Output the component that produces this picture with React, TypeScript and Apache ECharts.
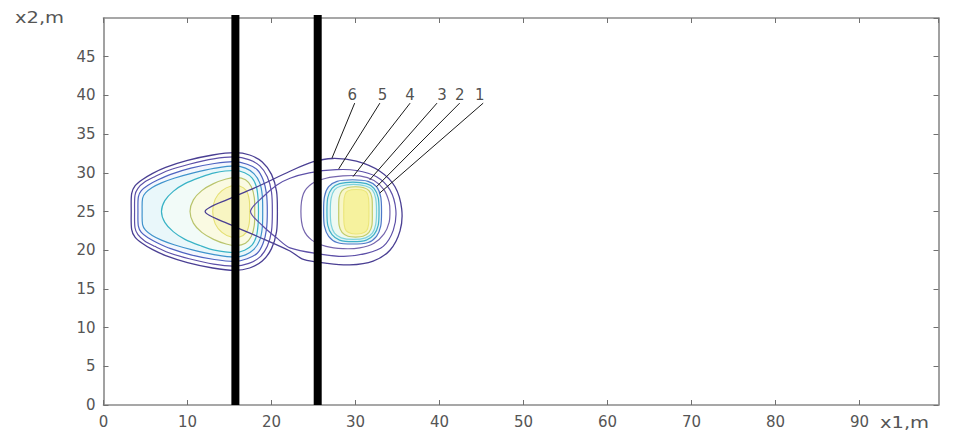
import React, { useEffect, useRef } from "react";
import * as echarts from "echarts";

// ---- axes ----
const X_MIN = 0;
const X_MAX = 99.4;
const X_STEP = 10;
const Y_MIN = 0;
const Y_MAX = 50;
const Y_STEP = 5;
const X_NAME = "x1,m";
const Y_NAME = "x2,m";

// ---- vertical walls (x1 positions, m) ----
const WALL_X = [15.7, 25.5];
const WALL_TOP = 50.4;

// ---- contour lines of the left zone (outer -> inner) ----
const LEFT_1 = [[3.3,25],[3.35,27.3],[3.75,28.3],[4.6,29.1],[5.8,29.9],[7.4,30.7],[10.0,31.6],[13.0,32.3],[15.6,32.6],[17.4,32.3],[18.9,31.4],[20.0,29.8],[20.6,27.6],[20.7,25],[20.6,22.4],[20.0,20.2],[18.9,18.6],[17.4,17.7],[15.6,17.4],[13.0,17.7],[10.0,18.4],[7.4,19.3],[5.8,20.1],[4.6,20.9],[3.75,21.7],[3.35,22.7]];
const LEFT_2 = [[3.7,25],[3.75,27.1],[4.1,28.0],[4.9,28.8],[6.1,29.5],[7.7,30.3],[10.2,31.1],[13.1,31.8],[15.6,32.05],[17.3,31.7],[18.6,30.9],[19.5,29.5],[20.0,27.5],[20.1,25],[20.0,22.5],[19.5,20.5],[18.6,19.1],[17.3,18.3],[15.6,17.95],[13.1,18.2],[10.2,18.9],[7.7,19.7],[6.1,20.5],[4.9,21.2],[4.1,22.0],[3.75,22.9]];
const LEFT_3 = [[4.1,25],[4.15,26.9],[4.5,27.7],[5.3,28.4],[6.5,29.1],[8.0,29.8],[10.4,30.6],[13.2,31.2],[15.6,31.45],[17.1,31.1],[18.3,30.4],[19.0,29.1],[19.4,27.3],[19.5,25],[19.4,22.7],[19.0,20.9],[18.3,19.6],[17.1,18.9],[15.6,18.55],[13.2,18.8],[10.4,19.4],[8.0,20.2],[6.5,20.9],[5.3,21.6],[4.5,22.3],[4.15,23.1]];
const LEFT_4 = [[4.6,25],[4.65,26.7],[5.0,27.4],[5.8,28.1],[6.9,28.7],[8.4,29.3],[10.7,30.0],[13.3,30.6],[15.6,30.9],[16.9,30.6],[17.9,29.9],[18.6,28.7],[18.9,27.1],[18.95,25],[18.9,22.9],[18.6,21.3],[17.9,20.1],[16.9,19.4],[15.6,19.1],[13.3,19.4],[10.7,20.0],[8.4,20.7],[6.9,21.3],[5.8,21.9],[5.0,22.6],[4.65,23.3]];
const LEFT_5 = [[6.9,25],[7.3,26.4],[8.3,27.6],[9.7,28.6],[11.5,29.4],[13.2,30.0],[15.6,30.3],[16.8,30.0],[17.7,29.3],[18.2,28.2],[18.4,26.7],[18.45,25],[18.4,23.3],[18.2,21.8],[17.7,20.7],[16.8,20.0],[15.6,19.7],[13.2,20.0],[11.5,20.6],[9.7,21.4],[8.3,22.4],[7.3,23.6]];
const LEFT_6 = [[10.3,25],[10.7,26.5],[11.7,27.7],[13.1,28.6],[14.6,29.2],[15.8,29.4],[16.9,29.1],[17.6,28.2],[17.95,26.8],[18.0,25],[17.95,23.2],[17.6,21.8],[16.9,20.9],[15.8,20.6],[14.6,20.8],[13.1,21.4],[11.7,22.3],[10.7,23.5]];
const LEFT_7 = [[13.0,25],[13.3,26.6],[14.1,27.7],[15.2,28.3],[16.2,28.3],[17.0,27.7],[17.35,26.5],[17.4,25],[17.35,23.5],[17.0,22.3],[16.2,21.7],[15.2,21.7],[14.1,22.3],[13.3,23.4]];

// ---- contour lines of the right zone, numbered 6 (outer) -> 1 ----
const RIGHT_6 = [[12.1,25],[15.1,26.7],[18.3,28.2],[22.2,30.2],[24.9,31.4],[27.3,31.85],[30.1,31.5],[32.9,30.2],[34.7,28.2],[35.5,25.3],[35.3,22.5],[34.1,20.0],[32.1,18.6],[29.3,18.1],[26.6,18.3],[23.8,18.8],[22.2,19.9],[18.3,21.8],[15.1,23.3]];
const RIGHT_5 = [[17.5,25],[19.0,26.9],[20.6,28.4],[22.2,29.3],[24.5,30.0],[27.7,30.4],[30.1,30.3],[32.5,29.5],[34.1,27.8],[34.8,25.2],[34.5,22.6],[33.3,20.5],[31.3,19.6],[28.6,19.2],[25.8,19.5],[22.2,20.3],[20.6,21.6],[19.0,23.1]];
const RIGHT_4 = [[23.5,25],[23.8,27.3],[24.8,28.6],[26.5,29.3],[28.5,29.6],[30.5,29.6],[32.2,29.0],[33.4,27.8],[34.0,26.2],[34.1,25],[34.0,23.6],[33.4,22.1],[32.2,20.9],[30.5,20.3],[28.5,20.2],[26.5,20.5],[24.8,21.3],[23.8,22.7]];
const RIGHT_3 = [[26.2,25],[26.3,26.9],[26.8,28.2],[27.8,28.9],[29.65,29.1],[31.5,28.9],[32.5,28.2],[33.0,26.9],[33.1,25],[33.0,23.1],[32.5,21.8],[31.5,21.0],[29.65,20.8],[27.8,21.0],[26.8,21.8],[26.3,23.1]];
const RIGHT_2 = [[26.6,25],[26.7,26.8],[27.2,28.0],[28.1,28.6],[29.7,28.8],[31.3,28.6],[32.2,28.0],[32.7,26.8],[32.8,25],[32.7,23.2],[32.2,22.0],[31.3,21.3],[29.7,21.1],[28.1,21.3],[27.2,22.0],[26.7,23.2]];
const RIGHT_1 = [[27.0,25],[27.1,26.7],[27.5,27.8],[28.3,28.3],[29.75,28.5],[31.2,28.3],[32.0,27.8],[32.4,26.7],[32.5,25],[32.4,23.3],[32.0,22.2],[31.2,21.6],[29.75,21.4],[28.3,21.6],[27.5,22.2],[27.1,23.3]];
const RIGHT_IN = [[28.0,25],[28.05,26.8],[28.4,27.7],[29.1,28.1],[30.0,28.2],[30.9,28.1],[31.6,27.7],[31.95,26.8],[32.0,25],[31.95,23.2],[31.6,22.3],[30.9,21.8],[30.0,21.7],[29.1,21.8],[28.4,22.3],[28.05,23.2]];
const RIGHT_CORE = [[28.6,25],[28.65,26.7],[28.9,27.5],[29.5,27.8],[30.1,27.85],[30.7,27.8],[31.3,27.5],[31.55,26.7],[31.6,25],[31.55,23.3],[31.3,22.5],[30.7,22.15],[30.1,22.1],[29.5,22.15],[28.9,22.5],[28.65,23.3]];

// ---- numbered labels and their leader lines ----
const LABEL_NAMES = ["6", "5", "4", "3", "2", "1"];
const LABEL_X = [29.6, 33.2, 36.5, 40.3, 42.4, 44.8];
const LABEL_Y = 40.1;
const LEADER_FROM = [[29.9,39.0],[32.9,39.0],[36.5,39.0],[39.7,39.0],[42.4,39.0],[45.2,39.0]];
const LEADER_TO = [[27.2,31.9],[28.0,30.5],[29.7,29.5],[31.7,29.1],[32.5,28.2],[32.9,27.4]];

const CONTOURS = [
  { pts: LEFT_1, stroke: "#4a3f93", fill: "none", w: 1.3 },
  { pts: LEFT_2, stroke: "#5d50a8", fill: "none", w: 1.2 },
  { pts: LEFT_3, stroke: "#4f63c0", fill: "#f4f7fd", w: 1.2 },
  { pts: LEFT_4, stroke: "#3f93cc", fill: "#e9f7fa", w: 1.2 },
  { pts: LEFT_5, stroke: "#39b3c6", fill: "#f2fbf8", w: 1.2 },
  { pts: LEFT_6, stroke: "#b9c46c", fill: "#fafae2", w: 1.2 },
  { pts: LEFT_7, stroke: "#e4df72", fill: "#f8f5c2", w: 1.1 },
  { pts: RIGHT_6, stroke: "#4a3f93", fill: "none", w: 1.3 },
  { pts: RIGHT_5, stroke: "#5d50a8", fill: "none", w: 1.2 },
  { pts: RIGHT_4, stroke: "#7565ad", fill: "none", w: 1.2 },
  { pts: RIGHT_3, stroke: "#4f78c8", fill: "#e8f6f9", w: 1.2 },
  { pts: RIGHT_2, stroke: "#3fb0c8", fill: "#e2f5f5", w: 1.2 },
  { pts: RIGHT_1, stroke: "#7fd3dc", fill: "#eef9f2", w: 1.2 },
  { pts: RIGHT_IN, stroke: "#c2cc6a", fill: "#f8f6c8", w: 1.2 },
  { pts: RIGHT_CORE, stroke: "#ebe67a", fill: "#f6f29e", w: 1.1 },
];

export default function App() {
  const ref = useRef<HTMLDivElement>(null);

  useEffect(() => {
    document.body.style.margin = "0";
    if (!ref.current) return;
    const chart = echarts.init(ref.current, null, { renderer: "svg" });

    const axisLineStyle = { color: "#8a8a8a", width: 1.6 };
    const tickStyle = { color: "#707070", width: 1 };
    const labelStyle = {
      color: "#555555",
      fontSize: 15,
      fontFamily: "DejaVu Sans",
    };

    const option: any = {
      animation: false,
      backgroundColor: "#ffffff",
      grid: { left: 103.5, right: 27.5, top: 18, bottom: 27, containLabel: false, outerBoundsMode: "none" },
      xAxis: [
        {
          type: "value", position: "bottom", min: X_MIN, max: X_MAX, interval: X_STEP,
          axisLine: { show: true, onZero: false, lineStyle: axisLineStyle },
          axisTick: { show: true, inside: true, length: 5, lineStyle: tickStyle },
          axisLabel: { ...labelStyle, margin: 9, showMaxLabel: false },
          splitLine: { show: false },
        },
        {
          type: "value", position: "top", min: X_MIN, max: X_MAX, interval: X_STEP,
          axisLine: { show: true, onZero: false, lineStyle: axisLineStyle },
          axisTick: { show: true, inside: true, length: 5, lineStyle: tickStyle },
          axisLabel: { show: false },
          splitLine: { show: false },
        },
      ],
      yAxis: [
        {
          type: "value", position: "left", min: Y_MIN, max: Y_MAX, interval: Y_STEP,
          axisLine: { show: true, onZero: false, lineStyle: axisLineStyle },
          axisTick: { show: true, inside: true, length: 5, lineStyle: tickStyle },
          axisLabel: { ...labelStyle, margin: 8, showMaxLabel: false },
          splitLine: { show: false },
        },
        {
          type: "value", position: "right", min: Y_MIN, max: Y_MAX, interval: Y_STEP,
          axisLine: { show: true, onZero: false, lineStyle: axisLineStyle },
          axisTick: { show: true, inside: true, length: 5, lineStyle: tickStyle },
          axisLabel: { show: false },
          splitLine: { show: false },
        },
      ],
      graphic: [
        {
          type: "text", x: 880, y: 423, scaleX: 1.3,
          style: { text: X_NAME, fill: "#555555", fontSize: 15, fontFamily: "DejaVu Sans", verticalAlign: "middle", align: "left" },
        },
        {
          type: "text", x: 15, y: 18, scaleX: 1.3,
          style: { text: Y_NAME, fill: "#555555", fontSize: 15, fontFamily: "DejaVu Sans", verticalAlign: "middle", align: "left" },
        },
      ],
      series: [
        {
          type: "custom",
          coordinateSystem: "cartesian2d",
          xAxisIndex: 0, yAxisIndex: 0,
          z: 2,
          clip: false,
          data: CONTOURS.map((_, i) => [i, 0]),
          renderItem: (params: any, api: any) => {
            const c = CONTOURS[params.dataIndex];
            const points = c.pts.map((p) => api.coord(p));
            return {
              type: "polygon",
              shape: { points, smooth: 0.3 },
              style: { fill: c.fill, stroke: c.stroke, lineWidth: c.w },
            };
          },
        },
        ...WALL_X.map((x) => ({
          type: "line",
          xAxisIndex: 0, yAxisIndex: 0,
          z: 5,
          clip: false,
          symbol: "none",
          data: [[x, Y_MIN], [x, WALL_TOP]],
          lineStyle: { color: "#000000", width: 8, cap: "butt" },
        })),
        {
          type: "lines",
          coordinateSystem: "cartesian2d",
          xAxisIndex: 0, yAxisIndex: 0,
          z: 6,
          data: LEADER_FROM.map((f, i) => ({ coords: [f, LEADER_TO[i]] })),
          lineStyle: { color: "#1a1a1a", width: 1, opacity: 1 },
        },
        {
          type: "scatter",
          xAxisIndex: 0, yAxisIndex: 0,
          z: 7,
          symbolSize: 1,
          itemStyle: { color: "rgba(255,255,255,0)" },
          data: LABEL_NAMES.map((n, i) => ({ name: n, value: [LABEL_X[i], LABEL_Y] })),
          label: {
            show: true, position: "inside", formatter: (p: any) => p.name,
            color: "#222222", fontSize: 15, fontFamily: "DejaVu Sans",
          },
        },
      ],
    };

    chart.setOption(option);
    return () => chart.dispose();
  }, []);

  return (
    <div
      ref={ref}
      style={{ position: "absolute", left: 0, top: 0, width: 966, height: 432, background: "#fff" }}
    />
  );
}
